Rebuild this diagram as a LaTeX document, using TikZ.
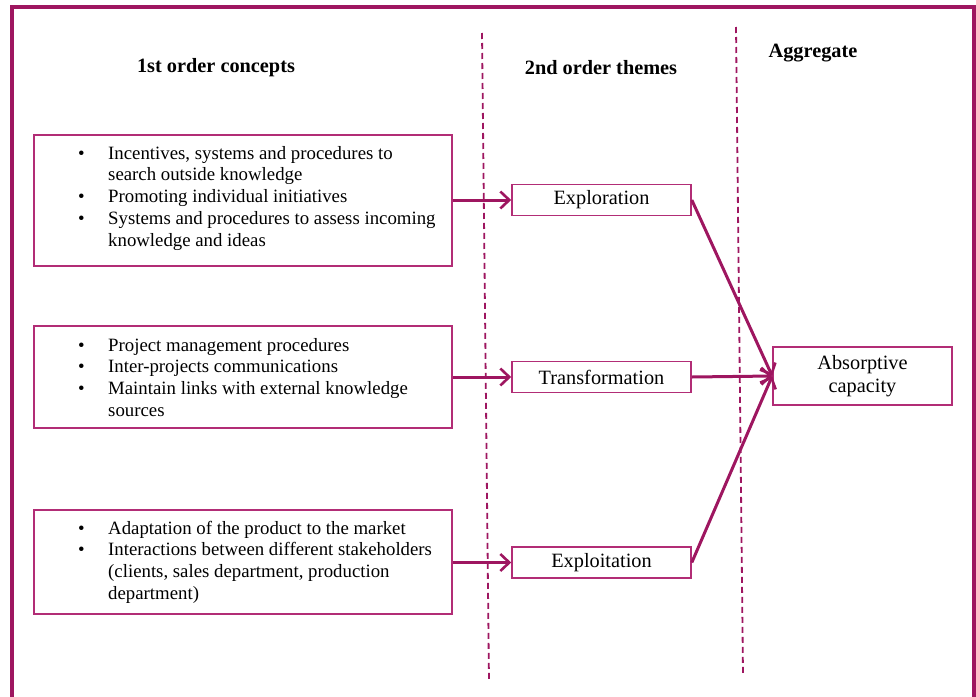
\documentclass[tikz,border=0pt]{standalone}
\usepackage{fontspec}
\setmainfont{Liberation Serif}
\usepackage{xcolor}
\definecolor{frame}{RGB}{158,22,96}
\definecolor{boxline}{RGB}{178,45,118}
\usetikzlibrary{arrows.meta}
\usetikzlibrary{positioning}
\usetikzlibrary{calc}

\tikzset{
  conceptbox/.style={draw=boxline, line width=1.6pt, minimum width=418pt, inner sep=0pt},
  themebox/.style={draw=boxline, line width=1.6pt, minimum width=179pt, minimum height=31pt, inner sep=0pt,
    font=\fontsize{20.3}{23}\selectfont},
  bullets/.style={anchor=base west, inner sep=0pt, font=\fontsize{18.8}{21.8}\selectfont},
  heading/.style={font=\fontsize{20.3}{23}\selectfont\bfseries, inner sep=0pt},
  flow/.style={draw=frame, line width=3pt, -{Straight Barb[length=9pt,width=17pt,line width=2.6pt]}},
  divider/.style={draw=frame, line width=1.8pt, dash pattern=on 6pt off 4pt}
}

\begin{document}
\begin{tikzpicture}[x=1pt, y=-1pt]
    \useasboundingbox (0,0) rectangle (976,696);

    % outer frame
    \draw[frame, line width=3.2pt] (12,710) -- (12,7) -- (974,7) -- (974,710);

    % column separators
    \draw[divider] (482,33) -- (489,682);
    \draw[divider] (736,27) -- (743,675);

    % headings
    \node[heading] (h1) at (216,68) {1st order concepts};
    \node[heading] (h2) at (601,68) {2nd order themes};
    \node[heading] (h3) at (813,53) {Aggregate};

    % 1st order concepts
    \node[conceptbox, minimum height=131pt] (c1) at (243,200.5) {};
    \node[bullets] (c1txt) at (78,159) {\begin{tabular}[t]{@{}p{30pt}@{}l@{}}
        \textbullet & Incentives, systems and procedures to\\
                    & search outside knowledge\\
        \textbullet & Promoting individual initiatives\\
        \textbullet & Systems and procedures to assess incoming\\
                    & knowledge and ideas
    \end{tabular}};

    \node[conceptbox, minimum height=102pt] (c2) at (243,377) {};
    \node[bullets] (c2txt) at (78,351) {\begin{tabular}[t]{@{}p{30pt}@{}l@{}}
        \textbullet & Project management procedures\\
        \textbullet & Inter-projects communications\\
        \textbullet & Maintain links with external knowledge\\
                    & sources
    \end{tabular}};

    \node[conceptbox, minimum height=104pt] (c3) at (243,562) {};
    \node[bullets] (c3txt) at (78,534) {\begin{tabular}[t]{@{}p{30pt}@{}l@{}}
        \textbullet & Adaptation of the product to the market\\
        \textbullet & Interactions between different stakeholders\\
                    & (clients, sales department, production\\
                    & department)
    \end{tabular}};

    % 2nd order themes
    \node[themebox] (explo) at (601.5,200) {Exploration};
    \node[themebox] (transf) at (601.5,377) {Transformation};
    \node[themebox] (exploit) at (601.5,562.5) {Exploitation};

    % aggregate
    \node[themebox, minimum height=58pt, align=center] (absorb) at (862.5,376)
        {Absorptive\\capacity};

    \draw[flow] (c1.east |- explo.west) -- (explo.west);
    \draw[flow] (c2.east |- transf.west) -- (transf.west);
    \draw[flow] (c3.east |- exploit.west) -- (exploit.west);

    \draw[flow] (explo.east) -- (absorb.west);
    \draw[flow] (transf.east) -- (absorb.west);
    \draw[flow] (exploit.east) -- (absorb.west);

\end{tikzpicture}
\end{document}
